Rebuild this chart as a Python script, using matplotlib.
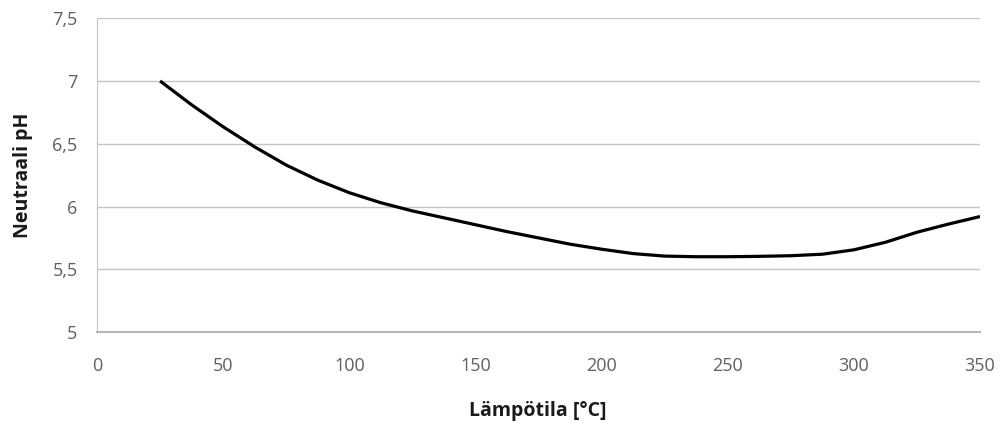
import matplotlib
matplotlib.use("Agg")
import matplotlib.pyplot as plt

# lämpötila (C) ja neutraali pH luettu kuvasta
lampotila = [25, 37.5, 50, 62.5, 75, 87.5, 100, 112.5, 125, 137.5, 150, 162.5, 175,
             187.5, 200, 212.5, 225, 237.5, 250, 262.5, 275, 287.5, 300, 312.5,
             325, 337.5, 350]
neutraali_ph = [7.0, 6.81, 6.635, 6.475, 6.33, 6.21, 6.11, 6.03, 5.965, 5.91, 5.855,
                5.80, 5.75, 5.70, 5.66, 5.625, 5.605, 5.60, 5.60, 5.603, 5.608, 5.62,
                5.655, 5.715, 5.795, 5.86, 5.92]

x_tikit = [0, 50, 100, 150, 200, 250, 300, 350]
y_tikit = [5, 5.5, 6, 6.5, 7, 7.5]
y_nimet = ['5', '5,5', '6', '6,5', '7', '7,5']

plt.rcParams['font.family'] = ['Open Sans', 'DejaVu Sans']

fig = plt.figure(figsize=(10, 4.23), dpi=100)
ax = fig.add_axes([0.097, 0.215, 0.883, 0.742])

ax.plot(lampotila, neutraali_ph, color='black', linewidth=2.3,
        solid_capstyle='butt', solid_joinstyle='round')

ax.set_xlim(0, 350)
ax.set_ylim(5, 7.5)
ax.set_xticks(x_tikit)
ax.set_yticks(y_tikit)
ax.set_yticklabels(y_nimet)

# harmaa ruudukko vain vaakasuunnassa
ax.grid(axis='y', color='#c4c4c4', linewidth=1)
ax.set_axisbelow(True)
for s in ['top', 'right']:
    ax.spines[s].set_visible(False)
ax.spines['left'].set_color('#c4c4c4')
ax.spines['bottom'].set_color('#b8b8b8')
ax.spines['bottom'].set_linewidth(1.5)
ax.tick_params(axis='both', length=0, labelsize=13, labelcolor='#606060')
ax.tick_params(axis='x', pad=18)
ax.tick_params(axis='y', pad=14)

# akselien nimet
fig.text(0.538, 1 - 411 / 423, 'Lämpötila [°C]', fontsize=14, fontweight='bold',
         ha='center', va='center', color='#1a1a1a')
fig.text(0.023, 1 - 175 / 423, 'Neutraali pH', fontsize=14, fontweight='bold',
         ha='center', va='center', rotation=90, color='#1a1a1a')

fig.savefig('out.png', dpi=100, facecolor='white')
